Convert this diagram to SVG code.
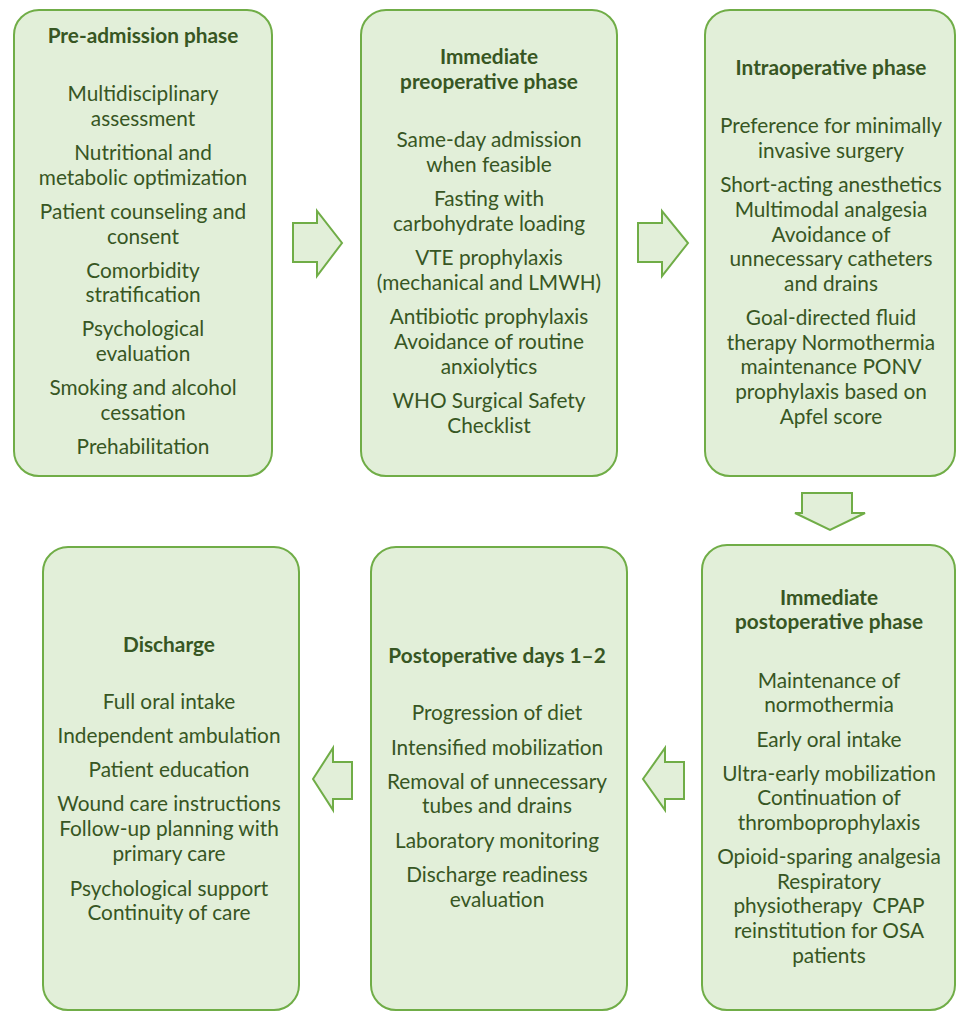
<svg xmlns="http://www.w3.org/2000/svg" width="957" height="1012" viewBox="0 0 957 1012">
<style>
.box{fill:#e2efd9;stroke:#70ad47;stroke-width:2}
.arr{fill:#e2efd9;stroke:#70ad47;stroke-width:2;stroke-linejoin:miter}
text{font-family:Lato,"Liberation Sans",sans-serif;font-size:20.8px;fill:#375623;text-anchor:middle}
.t{font-weight:bold}
</style>
<rect width="957" height="1012" fill="#ffffff"/>
<g id="connectors">
<path class="arr" d="M293,223 L317,223 L317,211 L342,243 L317,276 L317,262 L293,262 Z"/>
<path class="arr" d="M638,223 L662,223 L662,211 L688,243 L662,276 L662,262 L638,262 Z"/>
<path class="arr" d="M802,493 L852,493 L852,513 L865,513 L830,530 L795,513 L802,513 Z"/>
<path class="arr" d="M684,762 L665,762 L665,748 L643,779 L665,810 L665,799 L684,799 Z"/>
<path class="arr" d="M352,762 L333,762 L333,748 L313,779 L333,810 L333,799 L352,799 Z"/>
</g>
<g id="pre-admission">
<rect class="box" x="14" y="10" width="258" height="466" rx="25"/>
<text class="t" x="143" y="43">Pre-admission phase</text>
<text x="143" y="101">Multidisciplinary</text>
<text x="143" y="126">assessment</text>
<text x="143" y="160">Nutritional and</text>
<text x="143" y="185">metabolic optimization</text>
<text x="143" y="219">Patient counseling and</text>
<text x="143" y="244">consent</text>
<text x="143" y="278">Comorbidity</text>
<text x="143" y="302">stratification</text>
<text x="143" y="336">Psychological</text>
<text x="143" y="361">evaluation</text>
<text x="143" y="395">Smoking and alcohol</text>
<text x="143" y="420">cessation</text>
<text x="143" y="454">Prehabilitation</text>
</g>
<g id="immediate-preoperative">
<rect class="box" x="361" y="10" width="256" height="466" rx="25"/>
<text class="t" x="489" y="64">Immediate</text>
<text class="t" x="489" y="89">preoperative phase</text>
<text x="489" y="147">Same-day admission</text>
<text x="489" y="172">when feasible</text>
<text x="489" y="206">Fasting with</text>
<text x="489" y="231">carbohydrate loading</text>
<text x="489" y="265">VTE prophylaxis</text>
<text x="489" y="290">(mechanical and LMWH)</text>
<text x="489" y="324">Antibiotic prophylaxis</text>
<text x="489" y="349">Avoidance of routine</text>
<text x="489" y="374">anxiolytics</text>
<text x="489" y="408">WHO Surgical Safety</text>
<text x="489" y="433">Checklist</text>
</g>
<g id="intraoperative">
<rect class="box" x="705" y="10" width="250" height="466" rx="25"/>
<text class="t" x="831" y="75">Intraoperative phase</text>
<text x="831" y="133">Preference for minimally</text>
<text x="831" y="158">invasive surgery</text>
<text x="831" y="192">Short-acting anesthetics</text>
<text x="831" y="217">Multimodal analgesia</text>
<text x="831" y="242">Avoidance of</text>
<text x="831" y="266">unnecessary catheters</text>
<text x="831" y="291">and drains</text>
<text x="831" y="325">Goal-directed fluid</text>
<text x="831" y="350">therapy Normothermia</text>
<text x="831" y="374">maintenance PONV</text>
<text x="831" y="399">prophylaxis based on</text>
<text x="831" y="424">Apfel score</text>
</g>
<g id="immediate-postoperative">
<rect class="box" x="702" y="545" width="253" height="465" rx="25"/>
<text class="t" x="829" y="605">Immediate</text>
<text class="t" x="829" y="629">postoperative phase</text>
<text x="829" y="688">Maintenance of</text>
<text x="829" y="712">normothermia</text>
<text x="829" y="747">Early oral intake</text>
<text x="829" y="781">Ultra-early mobilization</text>
<text x="829" y="805">Continuation of</text>
<text x="829" y="830">thromboprophylaxis</text>
<text x="829" y="864">Opioid-sparing analgesia</text>
<text x="829" y="889">Respiratory</text>
<text x="829" y="913" xml:space="preserve">physiotherapy  CPAP</text>
<text x="829" y="938">reinstitution for OSA</text>
<text x="829" y="963">patients</text>
</g>
<g id="postoperative-days">
<rect class="box" x="371" y="547" width="256" height="463" rx="25"/>
<text class="t" x="497" y="663">Postoperative days 1–2</text>
<text x="497" y="720">Progression of diet</text>
<text x="497" y="755">Intensified mobilization</text>
<text x="497" y="789">Removal of unnecessary</text>
<text x="497" y="813">tubes and drains</text>
<text x="497" y="848">Laboratory monitoring</text>
<text x="497" y="882">Discharge readiness</text>
<text x="497" y="907">evaluation</text>
</g>
<g id="discharge">
<rect class="box" x="43" y="547" width="256" height="463" rx="25"/>
<text class="t" x="169" y="652">Discharge</text>
<text x="169" y="709">Full oral intake</text>
<text x="169" y="743">Independent ambulation</text>
<text x="169" y="777">Patient education</text>
<text x="169" y="811">Wound care instructions</text>
<text x="169" y="836">Follow-up planning with</text>
<text x="169" y="861">primary care</text>
<text x="169" y="896">Psychological support</text>
<text x="169" y="920">Continuity of care</text>
</g>
</svg>
